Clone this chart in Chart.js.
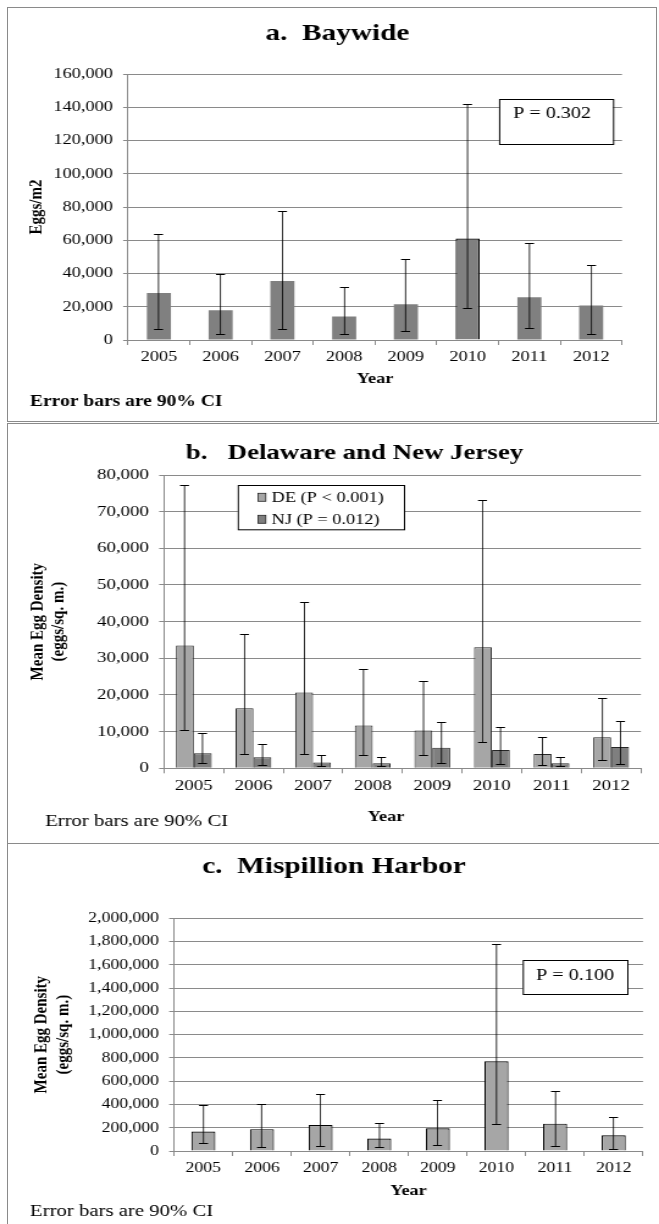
<!DOCTYPE html>
<html>
<head>
<meta charset="utf-8">
<script src="https://cdn.jsdelivr.net/npm/chart.js@4.4.1/dist/chart.umd.min.js"></script>
<style>
  html, body { margin: 0; padding: 0; background: #fff; }
  body { width: 659px; height: 1224px; position: relative; overflow: hidden; }
  .frame { position: absolute; box-sizing: border-box; border: 0 solid #8a8a8a; }
  canvas { position: absolute; left: 0; }
</style>
</head>
<body>
<div class="frame" style="left:7px;top:7px;width:650px;height:415px;border-width:1px;"></div>
<div class="frame" style="left:7px;top:423px;width:652px;height:420px;border-top-width:1px;border-left-width:1px;"></div>
<div class="frame" style="left:7px;top:843px;width:652px;height:381px;border-top-width:1px;border-left-width:1px;"></div>

<canvas id="chartA" width="540" height="421" style="top:0px;width:659px;height:421px;"></canvas>
<canvas id="chartB" width="540" height="420" style="top:423px;width:659px;height:420px;"></canvas>
<canvas id="chartC" width="540" height="381" style="top:843px;width:659px;height:381px;"></canvas>

<script>
// ---- data ----
const years = ['2005', '2006', '2007', '2008', '2009', '2010', '2011', '2012'];

// a. Baywide: mean egg density with 90% CI limits
const baywideMean = [28300, 17900, 35500, 14200, 21500, 61000, 25700, 20700];
const baywideLow  = [6800, 3800, 6800, 3400, 5500, 19500, 7200, 3800];
const baywideHigh = [63700, 40000, 77800, 32100, 49000, 142000, 58600, 45300];
const ticksA = [0, 20000, 40000, 60000, 80000, 100000, 120000, 140000, 160000];

// b. Delaware and New Jersey
const deMean = [33500, 16400, 20700, 11700, 10300, 33000, 3900, 8500];
const deLow  = [10400, 3800, 4000, 3600, 3500, 7300, 900, 2400];
const deHigh = [77300, 36500, 45300, 27100, 23700, 73200, 8500, 19100];
const njMean = [4100, 3000, 1600, 1400, 5600, 5000, 1400, 5800];
const njLow  = [1400, 900, 500, 500, 1500, 1300, 500, 1300];
const njHigh = [9500, 6500, 3500, 3100, 12500, 11200, 3100, 12800];
const ticksB = [0, 10000, 20000, 30000, 40000, 50000, 60000, 70000, 80000];

// c. Mispillion Harbor
const mispMean = [167000, 187000, 223000, 107000, 195000, 771000, 235000, 135000];
const mispLow  = [66000, 37000, 40000, 32000, 48000, 233000, 46000, 21000];
const mispHigh = [395000, 408000, 487000, 241000, 441000, 1778000, 513000, 289000];
const ticksC = [0, 200000, 400000, 600000, 800000, 1000000, 1200000, 1400000, 1600000, 1800000, 2000000];

// ---- shared styling ----
const FONT = "'Liberation Serif', 'Times New Roman', Times, serif";
const GRID = '#8a8a8a';
const SX = 659 / 540;          // canvases are drawn 540 wide and shown 659 wide
Chart.defaults.font.family = FONT;
Chart.defaults.color = '#000';

const fmt = v => Number(v).toLocaleString('en-US');

// vertical 90% CI whiskers with caps, read from each dataset's errLow / errHigh,
// snapped to whole screen pixels so the 1px strokes stay crisp
const errorBars = {
  id: 'errorBars',
  afterDatasetsDraw(chart) {
    const { ctx } = chart;
    const y = chart.scales.y;
    ctx.save();
    ctx.fillStyle = '#000';
    chart.data.datasets.forEach((ds, i) => {
      if (!ds.errLow) return;
      chart.getDatasetMeta(i).data.forEach((bar, j) => {
        const px = Math.round(bar.x * SX - 0.5);
        const top = Math.round(y.getPixelForValue(ds.errHigh[j]));
        const bot = Math.round(y.getPixelForValue(ds.errLow[j]));
        ctx.fillRect(px / SX, top, 1 / SX, bot - top + 1);
        ctx.fillRect((px - 4) / SX, top, 9 / SX, 1);
        ctx.fillRect((px - 4) / SX, bot, 9 / SX, 1);
      });
    });
    ctx.restore();
  }
};

// titles, notes, P-value boxes and the inset legend
function decor(spec) {
  return {
    id: 'decor',
    afterDraw(chart) {
      const ctx = chart.ctx;
      ctx.save();
      (spec.boxes || []).forEach(b => {
        ctx.fillStyle = '#fff';
        ctx.fillRect(b.x, b.y, b.w, b.h);
        ctx.strokeStyle = '#000';
        ctx.lineWidth = 1;
        ctx.strokeRect(b.x + 0.5, b.y + 0.5, b.w, b.h);
      });
      if (spec.legend) {
        const L = spec.legend;
        ctx.fillStyle = '#fff';
        ctx.fillRect(L.x, L.y, L.w, L.h);
        ctx.strokeStyle = '#000';
        ctx.lineWidth = 1;
        ctx.strokeRect(L.x + 0.5, L.y + 0.5, L.w, L.h);
        chart.data.datasets.forEach((ds, i) => {
          const cy = L.rows[i];
          ctx.fillStyle = ds.backgroundColor;
          ctx.fillRect(L.sx, cy - 4, 6.4, 8);
          ctx.strokeStyle = ds.borderColor;
          ctx.lineWidth = 0.8;
          ctx.strokeRect(L.sx, cy - 4, 6.4, 8);
          ctx.fillStyle = '#000';
          ctx.font = `${L.size}px ${FONT}`;
          ctx.textAlign = 'left';
          ctx.textBaseline = 'middle';
          ctx.fillText(ds.label, L.tx, cy + 1);
        });
      }
      (spec.texts || []).forEach(t => {
        ctx.fillStyle = '#000';
        ctx.font = `${t.bold ? 'bold ' : ''}${t.size}px ${FONT}`;
        ctx.textAlign = t.align || 'center';
        ctx.textBaseline = 'middle';
        ctx.fillText(t.text, t.x, t.y);
      });
      ctx.restore();
    }
  };
}

function yAxis(ticks, width, title, titlePad, tickSize) {
  return {
    min: ticks[0],
    max: ticks[ticks.length - 1],
    afterBuildTicks(s) { s.ticks = ticks.map(v => ({ value: v })); },
    ticks: { color: '#000', font: { size: tickSize }, padding: 8.3, callback: v => fmt(v) },
    grid: { color: GRID, lineWidth: 1, tickLength: 4, drawTicks: true },
    border: { display: true, color: GRID, width: 1 },
    title: {
      display: true, text: title, color: '#000',
      font: { size: 15, weight: 'bold', lineHeight: 1.15 },
      padding: { top: titlePad, bottom: 0 }
    },
    afterFit(s) { s.width = width; }
  };
}

function xAxis(height, showTitle, tickSize) {
  return {
    grid: { display: true, drawOnChartArea: false, drawTicks: true, tickLength: 5, color: GRID, offset: true },
    border: { display: true, color: GRID, width: 1 },
    ticks: { color: '#000', font: { size: tickSize }, padding: 3, maxRotation: 0, autoSkip: false },
    title: {
      display: showTitle, text: 'Year', color: '#000',
      font: { size: 15, weight: 'bold', lineHeight: 1.2 },
      padding: { top: 0, bottom: 0 }
    },
    afterFit(s) { s.height = height; }
  };
}

const baseOptions = (padding) => ({
  responsive: false,
  animation: false,
  devicePixelRatio: 1,
  layout: { padding },
  plugins: { legend: { display: false }, tooltip: { enabled: false }, title: { display: false } }
});

// ---- a. Baywide ----
new Chart(document.getElementById('chartA'), {
  type: 'bar',
  data: {
    labels: years,
    datasets: [{
      label: 'Baywide',
      data: baywideMean,
      errLow: baywideLow,
      errHigh: baywideHigh,
      backgroundColor: '#808080',
      borderColor: '#000',
      borderWidth: c => (years[c.dataIndex] === '2010' ? 1.2 : 0),
      categoryPercentage: 1,
      barPercentage: 0.39
    }]
  },
  options: Object.assign(baseOptions({ left: 15, right: 30.3, top: 74, bottom: 33 }), {
    scales: {
      x: xAxis(48, true, 15),
      y: yAxis(ticksA, 89.9, 'Eggs/m2', 6.3, 15)
    }
  }),
  plugins: [errorBars, decor({
    texts: [
      { text: 'a.  Baywide', x: 276.5, y: 34, size: 24, bold: true },
      { text: 'P = 0.302', x: 420.4, y: 114, size: 16.5, align: 'left' },
      { text: 'Error bars are 90% CI', x: 24.6, y: 402, size: 16, bold: true, align: 'left' }
    ],
    boxes: [{ x: 408.9, y: 99, w: 93.4, h: 45 }]
  })]
});

// ---- b. Delaware and New Jersey ----
new Chart(document.getElementById('chartB'), {
  type: 'bar',
  data: {
    labels: years,
    datasets: [
      {
        label: 'DE (P < 0.001)',
        data: deMean, errLow: deLow, errHigh: deHigh,
        backgroundColor: '#A6A6A6', borderColor: '#262626', borderWidth: 1,
        categoryPercentage: 0.6, barPercentage: 1
      },
      {
        label: 'NJ (P = 0.012)',
        data: njMean, errLow: njLow, errHigh: njHigh,
        backgroundColor: '#7F7F7F', borderColor: '#262626', borderWidth: 1,
        categoryPercentage: 0.6, barPercentage: 1
      }
    ]
  },
  options: Object.assign(baseOptions({ left: 15, right: 14.8, top: 52, bottom: 48.7 }), {
    scales: {
      x: xAxis(26, false, 15.5),
      y: yAxis(ticksB, 119.4, ['Mean Egg Density', '(eggs/sq. m.)'], 7.5, 15.5)
    }
  }),
  plugins: [errorBars, decor({
    texts: [
      { text: 'b.   Delaware and New Jersey', x: 290.5, y: 30, size: 22, bold: true },
      { text: 'Year', x: 316.3, y: 394, size: 15, bold: true },
      { text: 'Error bars are 90% CI', x: 36.9, y: 399, size: 17, align: 'left' }
    ],
    legend: { x: 194.8, y: 62, w: 136.2, h: 44.3, rows: [74.3, 96.3], sx: 211.4, tx: 222.6, size: 15 }
  })]
});

// ---- c. Mispillion Harbor ----
new Chart(document.getElementById('chartC'), {
  type: 'bar',
  data: {
    labels: years,
    datasets: [{
      label: 'Mispillion Harbor',
      data: mispMean, errLow: mispLow, errHigh: mispHigh,
      backgroundColor: '#A6A6A6', borderColor: '#000', borderWidth: 1.1,
      categoryPercentage: 1, barPercentage: 0.41
    }]
  },
  options: Object.assign(baseOptions({ left: 15, right: 13.1, top: 75.3, bottom: 24 }), {
    scales: {
      x: xAxis(49, true, 14.5),
      y: yAxis(ticksC, 127.6, ['Mean Egg Density', '(eggs/sq. m.)'], 10.8, 14.5)
    }
  }),
  plugins: [errorBars, decor({
    texts: [
      { text: 'c.  Mispillion Harbor', x: 273.7, y: 24, size: 24, bold: true },
      { text: 'P = 0.100', x: 471.2, y: 133, size: 16.5 },
      { text: 'Error bars are 90% CI', x: 24.6, y: 369, size: 17, align: 'left' }
    ],
    boxes: [{ x: 428.3, y: 117, w: 85.7, h: 34 }]
  })]
});
</script>
</body>
</html>
